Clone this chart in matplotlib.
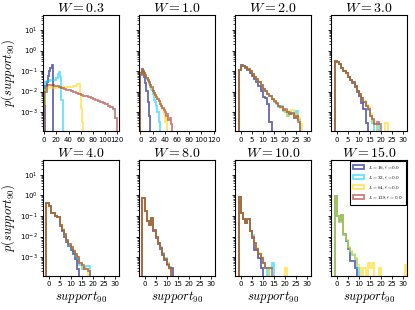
import numpy as np
import matplotlib
matplotlib.use('Agg')
import matplotlib.pyplot as plt
from matplotlib.patches import Patch
from matplotlib.ticker import LogLocator, NullFormatter, MultipleLocator

nan = np.nan
W_values = [0.3, 1.0, 2.0, 3.0, 4.0, 8.0, 10.0, 15.0]
L_values = [16, 32, 64, 128]
series_labels = [r'$L=16, \epsilon=0.0$', r'$L=32, \epsilon=0.0$',
                 r'$L=64, \epsilon=0.0$', r'$L=128, \epsilon=0.0$']
colors = ['navy', '#00d0ff', 'gold', 'brown']

# log10 of probability per bin (nan = empty bin)
# W = 0.3 : bins of width 2 from 0 (L=128 width 4)
logp_W03_L16 = [nan, -1.75, -1.55, -1.25, -1.0, -0.85, -0.72]
logp_W03_L32 = [-2.4, -1.55, -1.48, -1.46, -1.47, -1.44, -1.45, -1.43, -1.42, -1.44,
                -1.35, -1.15, -1.05, -1.3, -2.4]
logp_W03_L64 = [-2.6, -1.9, -1.78, -1.8, -1.82, -1.79, -1.81, -1.83, -1.8, -1.82,
                -1.8, -1.79, -1.82, -1.8, -1.81, -1.79, -1.8, -1.78, -1.8, -1.79,
                -1.77, -1.78, -1.76, -1.77, -1.75, -1.74, -1.72, -1.65, -1.62, -2.1,
                -2.8, -3.5]
logp_W03_L128 = [-2.0, -1.7, -1.68, -1.7, -1.73, -1.75, -1.79, -1.82, -1.86, -1.9,
                 -1.94, -1.99, -2.02, -2.07, -2.12, -2.15, -2.2, -2.23, -2.28, -2.32,
                 -2.37, -2.41, -2.45, -2.5, -2.55, -2.62, -2.68, -2.75, -2.85, -3.3]
# W = 1.0 : bins of width 2 from 0
logp_W1_L16 = [-1.1, -0.92, -1.05, -1.3, -1.6, -1.95, -2.5, -3.2]
logp_W1_L32 = [-1.15, -0.95, -1.0, -1.1, -1.22, -1.37, -1.5, -1.62, -1.78, -1.9,
               -2.1, -2.4, -2.5, -2.7, -3.0, -3.5]
logp_W1_L64 = [-1.15, -0.95, -1.0, -1.1, -1.2, -1.35, -1.45, -1.57, -1.7, -1.82,
               -1.95, -2.05, -2.15, -2.27, -2.36, -2.47, -2.6, -2.72, -2.85, -3.1,
               -3.5, -3.3]
logp_W1_L128 = [-1.2, -0.95, -1.0, -1.1, -1.2, -1.35, -1.45, -1.55, -1.7, -1.8,
                -1.95, -2.05, -2.15, -2.25, -2.35, -2.45, -2.6, -2.7, -2.8, -2.9,
                -3.0, -3.2, -3.1, -3.4, -3.3, -3.6]
# W >= 2 : bins of width 1 from -1
logp_W2_L16 = [-0.95, -0.7, -0.75, -0.85, -0.95, -1.1, -1.25, -1.4, -1.55, -1.75,
               -1.95, -2.25, -2.3, -2.6, -3.5]
logp_W2_L32 = [-0.95, -0.75, -0.76, -0.8, -0.9, -1.0, -1.15, -1.3, -1.42, -1.55,
               -1.7, -1.85, -1.97, -2.1, -2.2, -2.35, -2.5, -2.6, -2.75, -2.7,
               -2.95, -3.0, -3.2, -3.0, -3.1, -3.3, -2.95, -3.4]
logp_W2_L64 = [-0.95, -0.75, -0.75, -0.8, -0.9, -1.0, -1.15, -1.3, -1.4, -1.55,
               -1.7, -1.85, -1.95, -2.1, -2.2, -2.35, -2.45, -2.55, -2.7, -2.8,
               -2.9, -2.95, -3.2, -2.95, -2.9, -3.3, -3.1, -3.3, -3.6]
logp_W2_L128 = [-0.95, -0.75, -0.75, -0.8, -0.9, -1.0, -1.15, -1.3, -1.4, -1.55,
                -1.7, -1.85, -1.95, -2.1, -2.2, -2.35, -2.45, -2.55, -2.7, -2.75,
                -2.9, -2.85, -3.0, -3.1, -3.05, -3.3, -3.2, -3.5]
logp_W3_L16 = [-0.5, -0.55, -0.65, -0.85, -1.0, -1.1, -1.3, -1.45, -1.58, -1.8,
               -2.0, -2.2, -2.55, -2.85, -3.55]
logp_W3_L32 = [-0.5, -0.55, -0.65, -0.85, -1.0, -1.1, -1.3, -1.45, -1.55, -1.75,
               -1.95, -2.1, -2.3, -2.5, -2.7, -2.9, -3.2, -3.55, nan, -3.6]
logp_W3_L64 = [-0.5, -0.55, -0.65, -0.85, -1.0, -1.1, -1.3, -1.45, -1.55, -1.75,
               -1.95, -2.1, -2.3, -2.45, -2.65, -2.75, -3.1, -3.4, -3.6, nan,
               nan, nan, nan, -3.55]
logp_W3_L128 = [-0.5, -0.55, -0.65, -0.85, -1.0, -1.1, -1.3, -1.45, -1.55, -1.75,
                -1.95, -2.1, -2.3, -2.5, -2.7, -2.85, -3.2, -3.35, -3.6, -3.5, -3.6]
logp_W4_L16 = [-0.35, -0.5, -0.85, -0.85, -1.0, -1.05, -1.5, -1.75, -2.0, -2.25,
               -2.45, -2.65, -2.85, -3.1, -3.6]
logp_W4_L32 = [-0.35, -0.5, -0.85, -0.85, -1.0, -1.05, -1.45, -1.7, -1.95, -2.2,
               -2.45, -2.55, -2.75, -2.95, -3.1, -3.4, -3.6, -3.5, -3.45, -3.45]
logp_W4_L64 = [-0.35, -0.5, -0.85, -0.85, -1.0, -1.05, -1.45, -1.65, -1.9, -2.15,
               -2.35, -2.5, -2.65, -2.85, -3.0, -3.3, -3.5, -3.6, -3.6]
logp_W4_L128 = [-0.35, -0.5, -0.85, -0.85, -1.0, -1.05, -1.45, -1.7, -1.9, -2.15,
                -2.35, -2.5, -2.7, -2.85, -3.0, -3.3, -3.4, -3.6, -3.6, -3.7]
logp_W8_L16 = [-0.13, -0.75, -1.25, -1.45, -1.1, -1.75, -2.05, -2.35, -2.6, -2.9,
               -3.15, -3.35, -3.55, -3.55]
logp_W8_L32 = [-0.13, -0.75, -1.25, -1.45, -1.1, -1.7, -2.0, -2.3, -2.5, -2.8,
               -3.05, -3.3, -3.5]
logp_W8_L64 = [-0.13, -0.75, -1.25, -1.45, -1.1, -1.7, -2.0, -2.3, -2.55, -2.85,
               -3.1, -3.3, -3.6]
logp_W8_L128 = [-0.13, -0.75, -1.25, -1.45, -1.1, -1.7, -2.0, -2.3, -2.55, -2.85,
                -3.1, -3.4, -3.55]
logp_W10_L16 = [-0.08, -0.85, -1.15, -1.35, -1.15, -1.75, -2.05, -2.65, -2.65, -3.05,
                -3.55]
logp_W10_L32 = [-0.08, -0.85, -1.15, -1.35, -1.15, -1.75, -1.95, -2.3, -2.6, -2.85,
                -3.05, -3.3, -3.55, nan, -3.55, -3.3]
logp_W10_L64 = [-0.08, -0.85, -1.15, -1.35, -1.15, -1.75, -2.0, -2.3, -2.55, -2.8,
                -3.0, -3.3, -3.55, -3.55, nan, nan, nan, nan, nan, nan,
                nan, -3.55]
logp_W10_L128 = [-0.08, -0.85, -1.15, -1.35, -1.15, -1.75, -2.0, -2.3, -2.6, -2.85,
                 -3.05, -3.3, -3.55, -3.55, -3.55]
logp_W15_L16 = [-0.02, -0.98, -1.25, -0.95, -1.9, -2.2, -2.6, -3.2, -3.2, -3.55]
logp_W15_L32 = [-0.02, -0.98, -1.27, -0.95, -1.92, -2.2, -2.55, -2.75, -2.9, -3.1,
                -3.55]
logp_W15_L64 = [-0.02, -0.98, -1.27, -0.95, -1.9, -2.15, -2.5, -2.7, -2.85, -3.05,
                -3.4, -3.55, nan, -3.55, nan, -3.3, -3.55, -3.3, nan, nan,
                -3.55, nan, nan, nan, nan, nan, nan, nan, nan, nan,
                nan, nan, -3.4]
logp_W15_L128 = []

panels = [
    (0.3, [logp_W03_L16, logp_W03_L32, logp_W03_L64, logp_W03_L128], 0, [2, 2, 2, 4]),
    (1.0, [logp_W1_L16, logp_W1_L32, logp_W1_L64, logp_W1_L128], 0, [2, 2, 2, 2]),
    (2.0, [logp_W2_L16, logp_W2_L32, logp_W2_L64, logp_W2_L128], -1, [1, 1, 1, 1]),
    (3.0, [logp_W3_L16, logp_W3_L32, logp_W3_L64, logp_W3_L128], -1, [1, 1, 1, 1]),
    (4.0, [logp_W4_L16, logp_W4_L32, logp_W4_L64, logp_W4_L128], -1, [1, 1, 1, 1]),
    (8.0, [logp_W8_L16, logp_W8_L32, logp_W8_L64, logp_W8_L128], -1, [1, 1, 1, 1]),
    (10.0, [logp_W10_L16, logp_W10_L32, logp_W10_L64, logp_W10_L128], -1, [1, 1, 1, 1]),
    (15.0, [logp_W15_L16, logp_W15_L32, logp_W15_L64, logp_W15_L128], -1, [1, 1, 1, 1]),
]

fig, axes = plt.subplots(2, 4, figsize=(4.15, 3.1), dpi=100, sharey=True)
fig.subplots_adjust(left=0.1036, right=0.9807, top=0.952, bottom=0.11,
                    wspace=0.271, hspace=0.248)

alpha = 0.6
lw = 1.3
for ax, (W, series, start, widths) in zip(axes.flat, panels):
    ax.set_yscale('log', nonpositive='clip')
    for logp, c, wdt in zip(series, colors, widths):
        if len(logp) == 0:
            continue
        vals = np.nan_to_num(10.0 ** np.array(logp, dtype=float), nan=0.0)
        edges = start + wdt * np.arange(len(vals) + 1)
        ax.hist(edges[:-1], bins=edges, weights=vals, histtype='step',
                color=c, alpha=alpha, lw=lw)
    ax.set_title(r'$W=%.1f$' % W, fontsize=10, math_fontfamily='cm', pad=2)
    if W <= 1.0:
        ax.set_xlim(-2, 122)
        ax.xaxis.set_major_locator(MultipleLocator(20))
    else:
        ax.set_xlim(-2.5, 31.8)
        ax.xaxis.set_major_locator(MultipleLocator(5))
    ax.set_ylim(1.2e-4, 55)
    ax.yaxis.set_major_locator(LogLocator(base=10, numticks=20))
    ax.yaxis.set_minor_locator(LogLocator(base=10, subs=np.arange(2, 10) * 1.0, numticks=20))
    ax.yaxis.set_minor_formatter(NullFormatter())
    ax.tick_params(axis='both', which='major', labelsize=5, length=2.5, width=0.6, pad=1.5)
    ax.tick_params(axis='both', which='minor', length=1.5, width=0.5)
    for s in ax.spines.values():
        s.set_linewidth(0.8)

for ax in axes[:, 0]:
    ax.set_ylabel(r'$p(support_{90})$', fontsize=9, math_fontfamily='cm', labelpad=2)
for ax in axes[1, :]:
    ax.set_xlabel(r'$support_{90}$', fontsize=9, math_fontfamily='cm', labelpad=1)

handles = [Patch(facecolor='none', edgecolor=c, alpha=alpha, lw=lw) for c in colors]
leg = axes[1, 3].legend(handles, series_labels, loc='upper right', fontsize=3.6,
                        frameon=True, fancybox=False, framealpha=1,
                        handlelength=2.2, handleheight=0.8, borderpad=0.6,
                        labelspacing=0.45, handletextpad=0.8, borderaxespad=0.25)
leg.get_frame().set_edgecolor('black')
leg.get_frame().set_linewidth(0.8)
for t in leg.get_texts():
    t.set_math_fontfamily('cm')

fig.savefig('out.png', dpi=100)
